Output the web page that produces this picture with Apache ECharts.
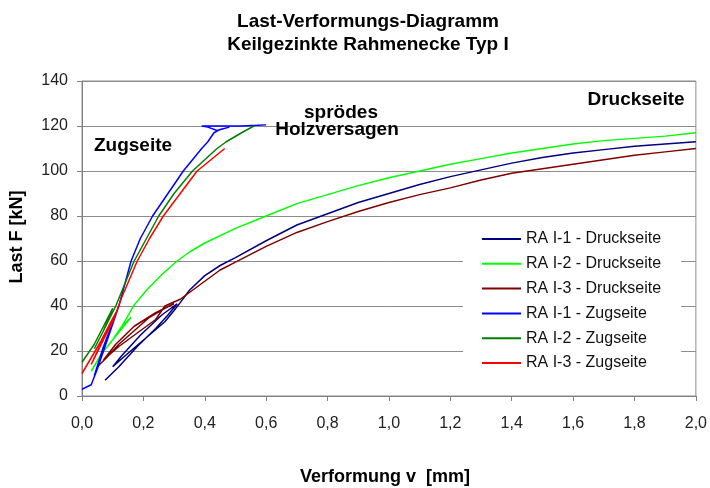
<!DOCTYPE html>
<html>
<head>
<meta charset="utf-8">
<script src="https://cdn.jsdelivr.net/npm/echarts@6/dist/echarts.min.js"></script>
<style>
html,body{margin:0;padding:0;background:#fff;}
#chart{width:710px;height:488px;}
</style>
</head>
<body>
<div id="chart"></div>
<script>
// ---- data (x: Verformung v [mm], y: Last F [kN]) ----
var seriesNames = [
  'RA I-1 - Druckseite', 'RA I-2 - Druckseite', 'RA I-3 - Druckseite',
  'RA I-1 - Zugseite', 'RA I-2 - Zugseite', 'RA I-3 - Zugseite'
];
var druck1 = [[0.075,7],[0.12,13],[0.18,22],[0.24,30],[0.28,36],[0.31,41],[0.26,36],[0.19,27],[0.13,18],[0.1,13],[0.15,19],[0.21,26],[0.27,33],[0.3,38],[0.32,41.5],[0.35,47],[0.4,53.5],[0.45,58],[0.5,61.5],[0.6,69],[0.7,76],[0.8,81],[0.9,86],[1.0,90],[1.1,94],[1.2,97.5],[1.3,100.5],[1.4,103.5],[1.5,106],[1.6,108],[1.7,109.5],[1.8,111],[1.9,112],[2.0,113]];
var druck2 = [[0.03,11],[0.06,18],[0.1,25],[0.13,31],[0.16,35],[0.13,30],[0.1,25],[0.13,31],[0.17,40.5],[0.21,47],[0.26,54],[0.31,60],[0.35,64],[0.4,68],[0.5,74.5],[0.6,80],[0.7,85.5],[0.8,89.5],[0.9,93.5],[1.0,97],[1.1,100],[1.2,103],[1.3,105.5],[1.4,108],[1.5,110],[1.6,112],[1.7,113.5],[1.8,114.5],[1.9,115.5],[2.0,117]];
var druck3 = [[0.05,13],[0.08,17],[0.12,23],[0.17,29],[0.22,35],[0.27,39],[0.3,41],[0.24,37],[0.17,31],[0.11,23],[0.07,16],[0.12,22],[0.18,28],[0.24,34],[0.27,40],[0.32,43],[0.38,49],[0.45,56],[0.5,59.5],[0.6,66.5],[0.7,72.7],[0.8,77.5],[0.9,82],[1.0,86],[1.1,89.5],[1.2,92.5],[1.3,96],[1.4,99],[1.5,101],[1.6,103],[1.7,105],[1.8,107],[1.9,108.5],[2.0,110]];
var zug1 = [[0.0,3],[0.03,5],[0.05,12],[0.08,24],[0.11,36],[0.07,22],[0.04,9],[0.06,16],[0.09,28],[0.12,40],[0.14,50],[0.16,60],[0.19,70],[0.23,80],[0.28,90],[0.33,100],[0.36,105],[0.39,110],[0.41,113],[0.43,117],[0.45,118.5],[0.48,119.5],[0.44,118],[0.41,119.5],[0.39,120],[0.45,120],[0.52,120],[0.57,120.3],[0.6,120.5]];
var zug2 = [[0.0,15],[0.04,23],[0.07,31],[0.1,39],[0.07,29],[0.04,21],[0.07,29],[0.11,40],[0.14,50],[0.17,60],[0.21,70],[0.25,80],[0.3,90],[0.36,100],[0.4,105],[0.44,110],[0.47,113],[0.52,117],[0.56,120]];
var zug3 = [[0.0,10],[0.03,17],[0.06,24],[0.09,32],[0.11,37],[0.08,28],[0.05,20],[0.03,14],[0.07,25],[0.1,33],[0.13,44],[0.18,60],[0.22,70],[0.265,80],[0.32,90],[0.375,100],[0.42,105],[0.465,110]];
var allData = [druck1, druck2, druck3, zug1, zug2, zug3];
var colors = ['#000080', '#00FF00', '#800000', '#0000FF', '#008000', '#FF0000'];
var xTicks = [0, 0.2, 0.4, 0.6, 0.8, 1.0, 1.2, 1.4, 1.6, 1.8, 2.0];
var yTicks = [0, 20, 40, 60, 80, 100, 120, 140];

var FONT = '"Liberation Sans", Arial, sans-serif';
var chart = echarts.init(document.getElementById('chart'), null, {renderer: 'canvas'});

var series = seriesNames.map(function (n, i) {
  return {
    name: n,
    type: 'line',
    data: allData[i],
    symbol: 'none',
    smooth: false,
    clip: true,
    z: i < 3 ? 2 : 3,
    lineStyle: {color: colors[i], width: 1.5},
    itemStyle: {color: colors[i]}
  };
});

var option = {
  backgroundColor: '#fff',
  animation: false,
  color: colors,
  title: {
    text: 'Last-Verformungs-Diagramm\nKeilgezinkte Rahmenecke Typ I',
    left: 363,
    textAlign: 'center',
    top: 5,
    padding: 5,
    textStyle: {fontFamily: FONT, fontSize: 19, fontWeight: 'bold', color: '#000', lineHeight: 23}
  },
  grid: {left: 82, right: 13, top: 81, bottom: 92, show: true, borderColor: '#8c8c8c', borderWidth: 1, backgroundColor: 'transparent'},
  xAxis: {
    type: 'value',
    min: xTicks[0], max: xTicks[xTicks.length - 1], interval: 0.2,
    axisLine: {show: true, lineStyle: {color: '#808080', width: 1}},
    axisTick: {show: true, inside: false, length: 5, lineStyle: {color: '#808080'}},
    splitLine: {show: false},
    axisLabel: {
      margin: 20, color: '#222', fontFamily: FONT, fontSize: 16,
      formatter: function (v) { return v.toFixed(1).replace('.', ','); }
    }
  },
  yAxis: {
    type: 'value',
    min: yTicks[0], max: yTicks[yTicks.length - 1], interval: 20,
    axisLine: {show: true, lineStyle: {color: '#808080', width: 1}},
    axisTick: {show: true, inside: false, length: 5, lineStyle: {color: '#808080'}},
    splitLine: {show: true, lineStyle: {color: '#8c8c8c', width: 1}},
    axisLabel: {margin: 14, color: '#222', fontFamily: FONT, fontSize: 16}
  },
  legend: {
    orient: 'vertical',
    left: 463, top: 223,
    padding: [7, 20, 7, 19],
    backgroundColor: '#fff',
    itemWidth: 39, itemHeight: 2, itemGap: 6.8,
    icon: 'rect',
    textStyle: {fontFamily: FONT, fontSize: 16, color: '#111', lineHeight: 18},
    data: seriesNames,
    z: 10
  },
  graphic: [
    {type: 'text', z: 20, style: {x: 133, y: 145.5, text: 'Zugseite', textAlign: 'center', textVerticalAlign: 'middle', font: 'bold 19px ' + FONT, fill: '#000'}},
    {type: 'text', z: 20, style: {x: 341, y: 112.5, text: 'sprödes', textAlign: 'center', textVerticalAlign: 'middle', font: 'bold 19px ' + FONT, fill: '#000'}},
    {type: 'text', z: 20, style: {x: 337, y: 129.5, text: 'Holzversagen', textAlign: 'center', textVerticalAlign: 'middle', font: 'bold 19px ' + FONT, fill: '#000'}},
    {type: 'text', z: 20, style: {x: 636, y: 100, text: 'Druckseite', textAlign: 'center', textVerticalAlign: 'middle', font: 'bold 19px ' + FONT, fill: '#000'}},
    {type: 'text', z: 20, x: 385, y: 477, style: {text: 'Verformung v  [mm]', textAlign: 'center', textVerticalAlign: 'middle', font: 'bold 18px ' + FONT, fill: '#000'}},
    {type: 'text', z: 20, x: 17, y: 237, rotation: Math.PI / 2, style: {text: 'Last F [kN]', textAlign: 'center', textVerticalAlign: 'middle', font: 'bold 18px ' + FONT, fill: '#000'}}
  ],
  series: series
};
chart.setOption(option);
</script>
</body>
</html>
